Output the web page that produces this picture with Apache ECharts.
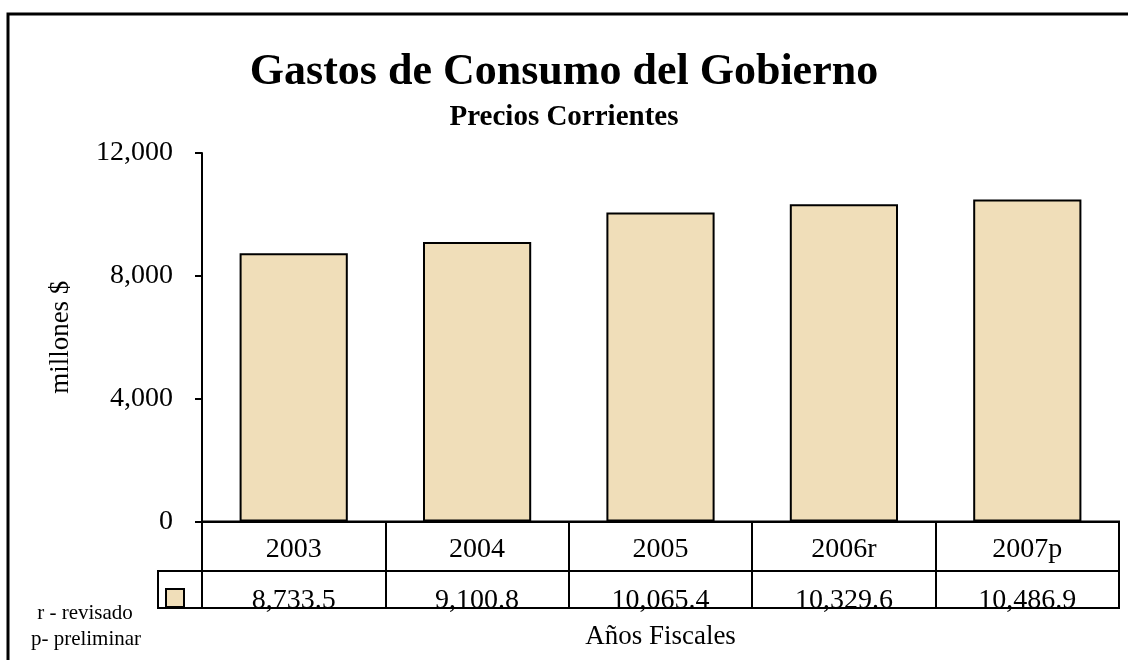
<!DOCTYPE html>
<html>
<head>
<meta charset="utf-8">
<script src="https://cdn.jsdelivr.net/npm/echarts@6/dist/echarts.min.js"></script>
<style>
html,body{margin:0;padding:0;background:#fff;}
#chart{width:1128px;height:660px;}
</style>
</head>
<body>
<div id="chart"></div>
<script>
const categories = ['2003', '2004', '2005', '2006r', '2007p'];
const values = [8733.5, 9100.8, 10065.4, 10329.6, 10486.9];
const yTicks = [0, 4000, 8000, 12000];

const serif = '"Liberation Serif", "Times New Roman", serif';
const barColor = '#f0deb9';
function fmt(v, d) {
  return v.toLocaleString('en-US', {minimumFractionDigits: d, maximumFractionDigits: d});
}

const chart = echarts.init(document.getElementById('chart'));
chart.setOption({
  animation: false,
  backgroundColor: '#fff',
  title: [
    {text: 'Gastos de Consumo del Gobierno', left: 'center', top: 46,
     textStyle: {fontFamily: serif, fontWeight: 'bold', fontSize: 44, color: '#000'}},
    {text: 'Precios Corrientes', left: 'center', top: 98,
     textStyle: {fontFamily: serif, fontWeight: 'bold', fontSize: 29, color: '#000'}}
  ],
  legend: {
    data: ['Gastos'], left: 165, top: 588, itemWidth: 18, itemHeight: 18,
    icon: 'rect', formatter: () => '', itemGap: 0, padding: 0,
    itemStyle: {borderColor: '#000', borderWidth: 2}
  },
  grid: [
    {left: 202, top: 153, width: 917, height: 368.5},
    {left: 202, top: 521.5, width: 917, height: 49.5, show: true, borderColor: '#000', borderWidth: 2},
    {left: 202, top: 571, width: 917, height: 37, show: true, borderColor: '#000', borderWidth: 2}
  ],
  xAxis: [
    {gridIndex: 0, type: 'category', data: categories, axisLine: {show: true, lineStyle: {color: '#000', width: 2}},
     axisTick: {show: false}, axisLabel: {show: false}},
    {gridIndex: 1, type: 'category', data: categories, axisLine: {show: false}, axisTick: {show: false},
     axisLabel: {show: false}, splitLine: {show: true, interval: 0, lineStyle: {color: '#000', width: 2}}},
    {gridIndex: 2, type: 'category', data: categories, axisLine: {show: false}, axisTick: {show: false},
     axisLabel: {show: false}, splitLine: {show: true, interval: 0, lineStyle: {color: '#000', width: 2}},
     name: 'Años Fiscales', nameLocation: 'middle', nameGap: 15,
     nameTextStyle: {fontFamily: serif, fontSize: 27, color: '#000', verticalAlign: 'top'}}
  ],
  yAxis: [
    {gridIndex: 0, type: 'value', min: yTicks[0], max: yTicks[yTicks.length - 1], interval: yTicks[1] - yTicks[0],
     axisLine: {show: true, lineStyle: {color: '#000', width: 2}},
     axisTick: {show: true, length: 7, lineStyle: {color: '#000', width: 2}},
     splitLine: {show: false},
     axisLabel: {margin: 29, fontFamily: serif, fontSize: 28, color: '#000', formatter: v => fmt(v, 0)},
     name: 'millones $', nameLocation: 'middle', nameGap: 128, nameRotate: 90,
     nameTextStyle: {fontFamily: serif, fontSize: 27, color: '#000'}},
    {gridIndex: 1, type: 'value', min: 0, max: 1, show: false},
    {gridIndex: 2, type: 'value', min: 0, max: 1, show: false}
  ],
  series: [
    {name: 'Gastos', type: 'bar', xAxisIndex: 0, yAxisIndex: 0, data: values, barCategoryGap: '41%',
     itemStyle: {color: barColor, borderColor: '#000', borderWidth: 2}},
    {type: 'scatter', xAxisIndex: 1, yAxisIndex: 1, symbolSize: 0, silent: true,
     itemStyle: {opacity: 1},
     data: categories.map(c => [c, 0.5]),
     label: {show: true, position: 'inside', offset: [0, 3], opacity: 1, formatter: p => categories[p.dataIndex],
       fontFamily: serif, fontSize: 28, color: '#000'}},
    {type: 'scatter', xAxisIndex: 2, yAxisIndex: 2, symbolSize: 0, silent: true,
     itemStyle: {opacity: 1},
     data: categories.map(c => [c, 0.5]),
     label: {show: true, position: 'inside', offset: [0, 11], opacity: 1, formatter: p => fmt(values[p.dataIndex], 1),
       fontFamily: serif, fontSize: 28, color: '#000'}}
  ],
  graphic: [
    {type: 'rect', shape: {x: 8, y: 14, width: 1200, height: 700}, z: -1,
     style: {fill: null, stroke: '#000', lineWidth: 3}},
    {type: 'rect', shape: {x: 158, y: 571, width: 44, height: 37}, z: 5,
     style: {fill: null, stroke: '#000', lineWidth: 2}},
    {type: 'text', x: 85, y: 613, style: {text: 'r - revisado', font: '21px ' + serif, fill: '#000', align: 'center', verticalAlign: 'middle'}},
    {type: 'text', x: 86, y: 639, style: {text: 'p- preliminar', font: '21px ' + serif, fill: '#000', align: 'center', verticalAlign: 'middle'}}
  ]
});
</script>
</body>
</html>
